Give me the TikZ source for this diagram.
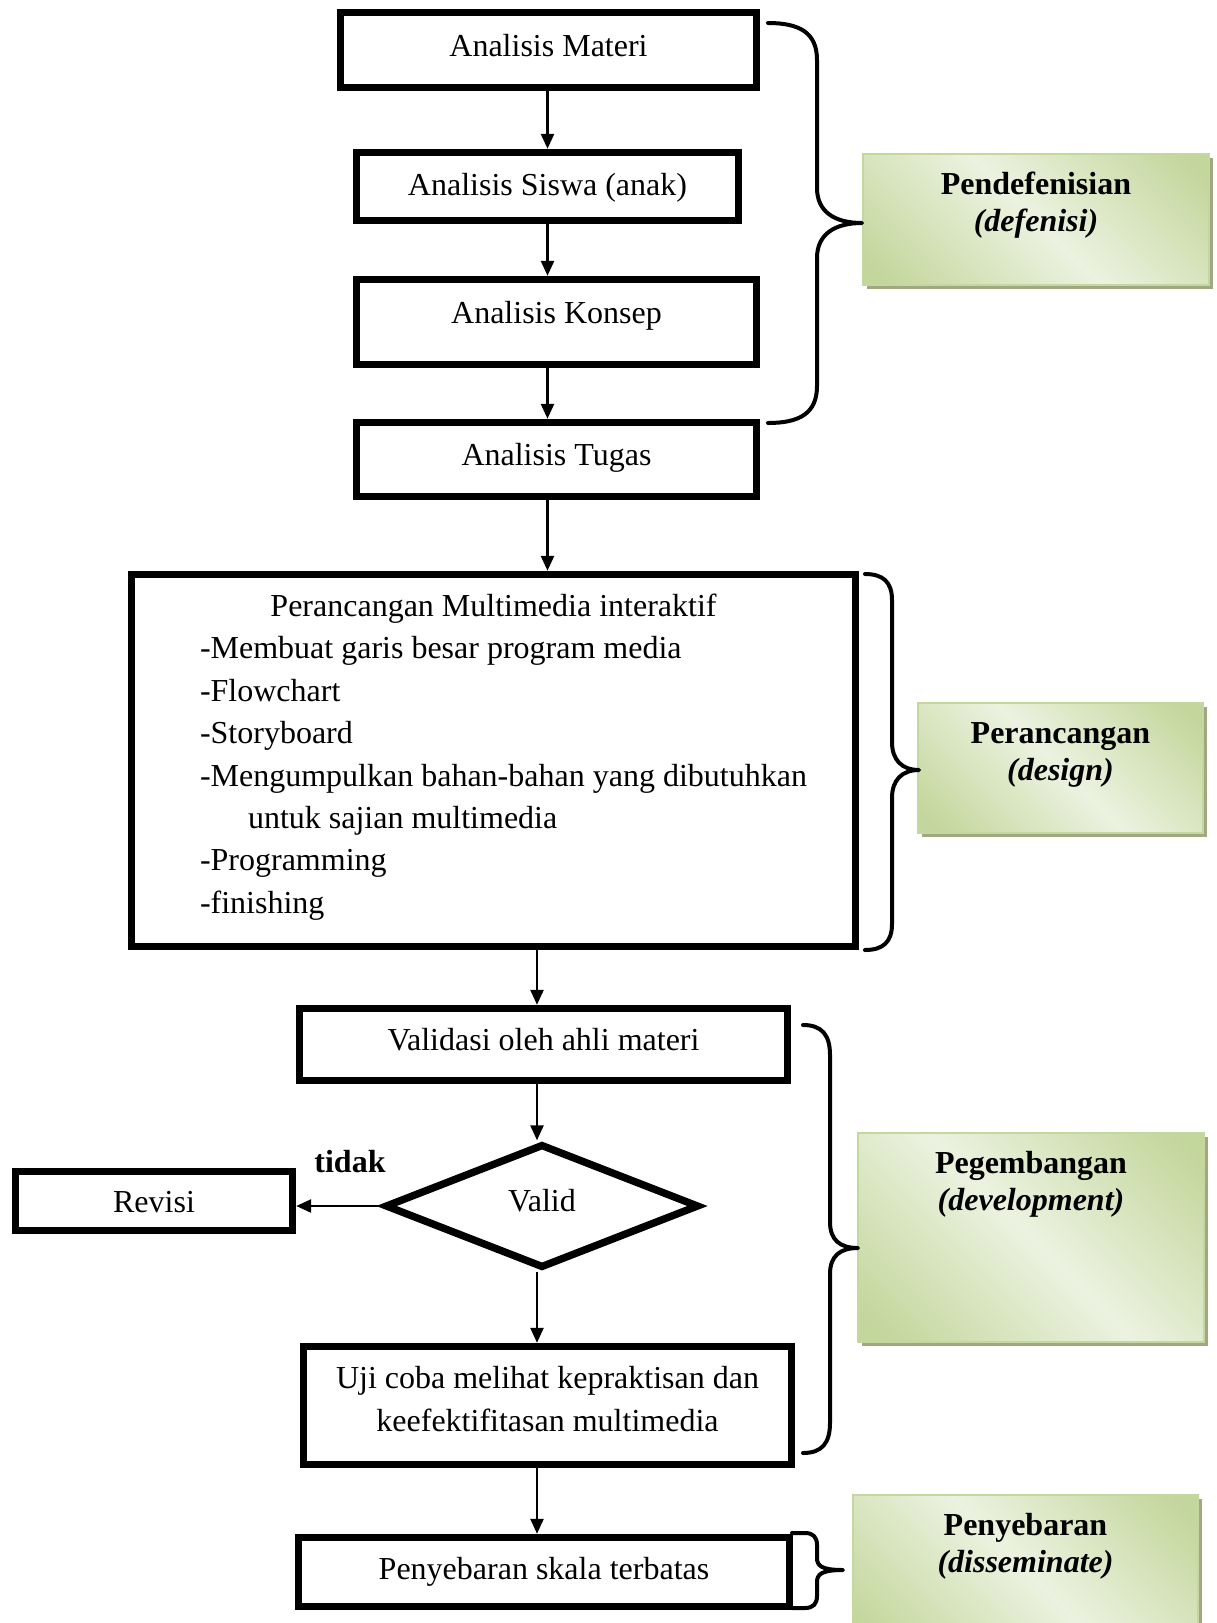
\documentclass[tikz,border=0pt]{standalone}
\usepackage{fontspec}
\setmainfont{Liberation Serif}
\usetikzlibrary{shapes.geometric,arrows.meta,shadows}
\definecolor{gL}{RGB}{236,242,224}
\definecolor{gD}{RGB}{195,214,155}
\definecolor{gBorder}{RGB}{196,215,158}
\definecolor{gShadow}{RGB}{160,168,130}
\pgfdeclareverticalshading{gband}{100bp}{color(0bp)=(gD); color(18bp)=(gD); color(50bp)=(gL); color(82bp)=(gD); color(100bp)=(gD)}
\tikzset{
  every node/.style={font=\fontsize{16pt}{21.2pt}\selectfont, inner sep=0pt},
  flowbox/.style={draw, line width=3.7pt, rectangle, fill=white},
  decision/.style={draw, line width=3.7pt, diamond, fill=white},
  arr/.style={line width=1.3pt, -{Triangle[length=7.5pt,width=6.5pt]}},
  brace/.style={line width=2pt, line cap=round, line join=round},
  phase/.style={rectangle, draw=gBorder, line width=0.8pt, shade, shading=gband, shading angle=-45,
    drop shadow={shadow xshift=2pt, shadow yshift=-2pt, fill=gShadow, opacity=1}},
}
\newcommand{\phasetext}[2]{\parbox[t]{130pt}{\centering\fontsize{16pt}{18.5pt}\selectfont\textbf{#1}\\\textbf{\itshape #2}}}
\begin{document}
\begin{tikzpicture}[x=0.5pt,y=-0.5pt]
\useasboundingbox (0,0) rectangle (1216,1623);

% --- define phase
\node[flowbox, minimum width=208pt, minimum height=37.5pt, text height=11pt, text depth=5pt] (materi) at (548.5,50) {Analisis Materi};
\node[flowbox, minimum width=191pt, minimum height=34pt, text height=11pt, text depth=2.5pt] (siswa) at (547.5,186.5) {Analisis Siswa (anak)};
\node[flowbox, minimum width=200pt, minimum height=42.5pt, text height=11pt, text depth=10pt] (konsep) at (556.5,322) {Analisis Konsep};
\node[flowbox, minimum width=200pt, minimum height=37pt, text height=11pt, text depth=5.5pt] (tugas) at (556.5,459.5) {Analisis Tugas};

% --- design phase
\node[flowbox, minimum width=362pt, minimum height=186pt, text height=10pt, text depth=154.1pt] (design) at (493.5,760.5)
{\parbox[t]{293.5pt}{\fontsize{16pt}{21.2pt}\selectfont
\makebox[\linewidth]{Perancangan Multimedia interaktif}\\
\mbox{-Membuat garis besar program media}\\
\mbox{-Flowchart}\\
\mbox{-Storyboard}\\
\mbox{-Mengumpulkan bahan-bahan yang dibutuhkan}\\
\mbox{\hspace*{24pt}untuk sajian multimedia}\\
\mbox{-Programming}\\
\mbox{-finishing}}};

% --- development phase
\node[flowbox, minimum width=244pt, minimum height=36pt, text height=11pt, text depth=5.5pt] (validasi) at (543.5,1044.5) {Validasi oleh ahli materi};
\node[decision, minimum width=157pt, minimum height=62pt, text height=11pt, text depth=6pt] (valid) at (542,1206) {Valid};
\node[flowbox, minimum width=138.5pt, minimum height=29.5pt, text height=12pt, text depth=0.5pt] (revisi) at (154,1201) {Revisi};
\node[font=\fontsize{16pt}{21.2pt}\selectfont\bfseries, anchor=base] (tidak) at (350,1172) {tidak};
\node[flowbox, minimum width=244pt, minimum height=59pt, text height=10pt, text depth=27pt] (uji) at (547.5,1405.5)
{\parbox[t]{230pt}{\centering\fontsize{16pt}{21.25pt}\selectfont Uji coba melihat kepraktisan dan\\keefektifitasan multimedia}};

% --- disseminate phase
\node[flowbox, minimum width=245.5pt, minimum height=34.5pt, text height=11pt, text depth=4pt] (sebar) at (544,1572) {Penyebaran skala terbatas};

% --- phase labels
\node[phase, minimum width=173pt, minimum height=65.5pt, text height=10pt, text depth=35.5pt] (g1) at (1036,219.5) {\phasetext{Pendefenisian}{(defenisi)}};
\node[phase, minimum width=142.5pt, minimum height=65pt, text height=10pt, text depth=35pt] (g2) at (1060.5,768) {\phasetext{Perancangan}{(design)}};
\node[phase, minimum width=173pt, minimum height=104.5pt, text height=10pt, text depth=74.5pt] (g3) at (1031,1237.5) {\phasetext{Pegembangan}{(development)}};
\node[phase, minimum width=172.5pt, minimum height=75pt, text height=10pt, text depth=45pt] (g4) at (1025.5,1570) {\phasetext{Penyebaran}{(disseminate)}};

% --- connectors
\coordinate (colB) at (537,0);
\draw[arr] (materi.south -| siswa.north) -- (siswa.north);
\draw[arr] (siswa.south) -- (konsep.north -| siswa.south);
\draw[arr] (konsep.south -| siswa.south) -- (tugas.north -| siswa.south);
\draw[arr] (tugas.south -| siswa.south) -- (design.north -| siswa.south);
\draw[arr] (design.south -| colB) -- (validasi.north -| colB);
\draw[arr] (validasi.south -| colB) -- (valid.north -| colB);
\draw[arr] (valid.south -| colB) -- (uji.north -| colB);
\draw[arr] (uji.south -| colB) -- (sebar.north -| colB);
\draw[arr] (valid.west) -- (valid.west -| revisi.east);

% --- braces
\draw[brace] (768,23) .. controls (800,23) and (817,33) .. (817,60) -- (817,188)
  .. controls (817,212) and (835,223) .. (862,223)
  .. controls (835,223) and (817,234) .. (817,258) -- (817,386)
  .. controls (817,413) and (800,423) .. (768,423);
\draw[brace] (865,574) .. controls (883,574) and (892,582) .. (892,600) -- (892,742)
  .. controls (892,760) and (902,770) .. (919,770)
  .. controls (902,770) and (892,780) .. (892,798) -- (892,924)
  .. controls (892,942) and (883,950) .. (865,950);
\draw[brace] (803,1025) .. controls (822,1025) and (830,1035) .. (830,1055) -- (830,1222)
  .. controls (830,1240) and (840,1248) .. (858,1248)
  .. controls (840,1248) and (830,1256) .. (830,1274) -- (830,1423)
  .. controls (830,1443) and (822,1453) .. (803,1453);
\draw[brace] (792,1533) -- (805,1533) .. controls (813,1533) and (817,1537) .. (817,1545) -- (817,1558)
  .. controls (817,1566) and (822,1570) .. (843,1570)
  .. controls (822,1570) and (817,1574) .. (817,1582) -- (817,1596)
  .. controls (817,1604) and (813,1608) .. (805,1608) -- (792,1608);
\end{tikzpicture}
\end{document}
